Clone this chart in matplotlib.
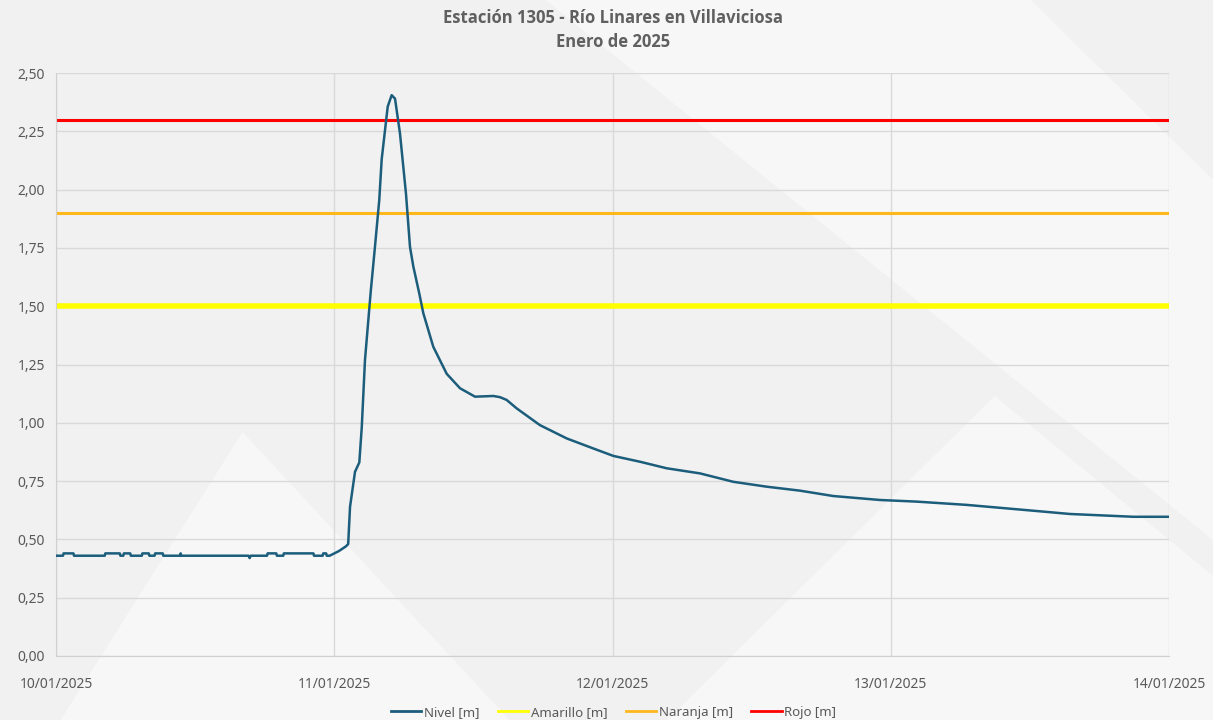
import numpy as np
import pandas as pd
import matplotlib
matplotlib.use("Agg")
from matplotlib import pyplot as plt
import matplotlib.dates as mdates
from matplotlib.patches import Polygon

# horas desde 10/01/2025 00:00 y nivel [m]
horas = [0.0, 0.6, 0.65, 1.5, 1.55, 4.2, 4.25, 5.5, 5.55, 5.8, 5.85, 6.4, 6.45,
         7.4, 7.45, 8.0, 8.05, 8.5, 8.55, 9.2, 9.25, 10.7, 10.75, 10.8,
         16.6, 16.7, 16.8, 18.2, 18.25, 19.0, 19.05, 19.6, 19.65, 22.2, 22.25,
         23.0, 23.05, 23.3, 23.35, 23.6, 24.0, 24.4, 24.7, 25.0, 25.2,
         25.36, 25.79, 26.16, 26.37, 26.65, 27.14, 27.51, 27.88, 28.09, 28.61,
         28.95, 29.24, 29.67, 30.19, 30.53, 30.82, 31.33, 31.68, 32.54, 33.70,
         34.85, 36.14, 37.72, 38.29, 38.87, 39.73, 41.74, 44.05, 46.34, 48.07,
         50.37, 52.67, 55.55, 58.42, 61.30, 64.17, 67.04, 71.07, 74.24, 78.55,
         84.29, 87.46, 92.92, 96.0]
nivel = [0.43, 0.43, 0.44, 0.44, 0.43, 0.43, 0.44, 0.44, 0.43, 0.43, 0.44, 0.44, 0.43,
         0.43, 0.44, 0.44, 0.43, 0.43, 0.44, 0.44, 0.43, 0.43, 0.44, 0.43,
         0.43, 0.42, 0.43, 0.43, 0.44, 0.44, 0.43, 0.43, 0.44, 0.44, 0.43,
         0.43, 0.44, 0.44, 0.43, 0.43, 0.44, 0.45, 0.46, 0.47, 0.48,
         0.64, 0.79, 0.83, 0.98, 1.27, 1.56, 1.755, 1.955, 2.13, 2.356,
         2.405, 2.39, 2.24, 1.98, 1.755, 1.67, 1.555, 1.47, 1.326, 1.21,
         1.148, 1.112, 1.115, 1.11, 1.098, 1.062, 0.99, 0.933, 0.89, 0.858,
         0.833, 0.805, 0.783, 0.747, 0.726, 0.709, 0.686, 0.669, 0.662, 0.648,
         0.623, 0.609, 0.597, 0.597]

umbrales = {"Amarillo [m]": 1.50, "Naranja [m]": 1.90, "Rojo [m]": 2.30}
colores = {"Amarillo [m]": "#FFFF00", "Naranja [m]": "#FFB81C", "Rojo [m]": "#FF0000"}
grosor = {"Amarillo [m]": 4.0, "Naranja [m]": 2.2, "Rojo [m]": 2.2}

inicio = pd.Timestamp("2025-01-10")
fechas = inicio + pd.to_timedelta(horas, unit="h")
fin = inicio + pd.Timedelta(days=4)

plt.rcParams['font.family'] = ['Noto Sans', 'DejaVu Sans']
gris = "#595959"

fig = plt.figure(figsize=(12.13, 7.2), dpi=100, facecolor="#f1f1f1")

# fondo con formas diagonales claras (detrás de todo)
fondo = [
    [(0.45, 1.0), (1.0, 0.25), (1.0, 0.75), (0.85, 1.0)],
    [(0.55, 0.0), (0.82, 0.45), (1.0, 0.2), (1.0, 0.0)],
    [(0.05, 0.0), (0.20, 0.40), (0.42, 0.0)],
]
for p in fondo:
    fig.patches.append(Polygon(p, closed=True, transform=fig.transFigure,
                               facecolor="white", alpha=0.45, edgecolor="none", zorder=-5))

ax = fig.add_axes([0.0462, 0.0889, 0.9175, 0.8097])
ax.set_facecolor("none")
ax.set_zorder(1)

ax.plot(fechas, nivel, color="#1C5D7C", lw=1.8, label="Nivel [m]", zorder=3)
for k, v in umbrales.items():
    ax.axhline(v, color=colores[k], lw=grosor[k], label=k, zorder=2)

ax.set_xlim(inicio, fin)
ax.set_ylim(0, 2.5)
ax.set_yticks(np.arange(0, 2.51, 0.25))
ax.yaxis.set_major_formatter(plt.FuncFormatter(lambda v, p: f"{v:.2f}".replace(".", ",")))
ax.xaxis.set_major_locator(mdates.DayLocator())
ax.xaxis.set_major_formatter(mdates.DateFormatter("%d/%m/%Y"))

ax.grid(True, color="#d9d9d9", lw=1.0, zorder=0)
for s in ["top", "right"]:
    ax.spines[s].set_visible(False)
for s in ["left", "bottom"]:
    ax.spines[s].set_color("#d0d0d0")
ax.tick_params(axis="x", length=0, labelsize=10, labelcolor=gris, pad=15)
ax.tick_params(axis="y", length=0, labelsize=10, labelcolor=gris, pad=8)

fig.text(0.505, 0.958, "Estación 1305 - Río Linares en Villaviciosa\nEnero de 2025",
         ha="center", va="center", fontsize=12, color="#606060", linespacing=1.45,
         fontweight="bold", family=["Open Sans", "DejaVu Sans"])

leg = ax.legend(loc="upper center", bbox_to_anchor=(0.501, -0.065), ncol=4, frameon=False,
                fontsize=9.5, labelcolor=gris, handlelength=2.3, handletextpad=0.2,
                columnspacing=1.4)
for h in leg.get_lines():
    h.set_linewidth(2.0)

fig.savefig("out.png", dpi=100, facecolor=fig.get_facecolor())
